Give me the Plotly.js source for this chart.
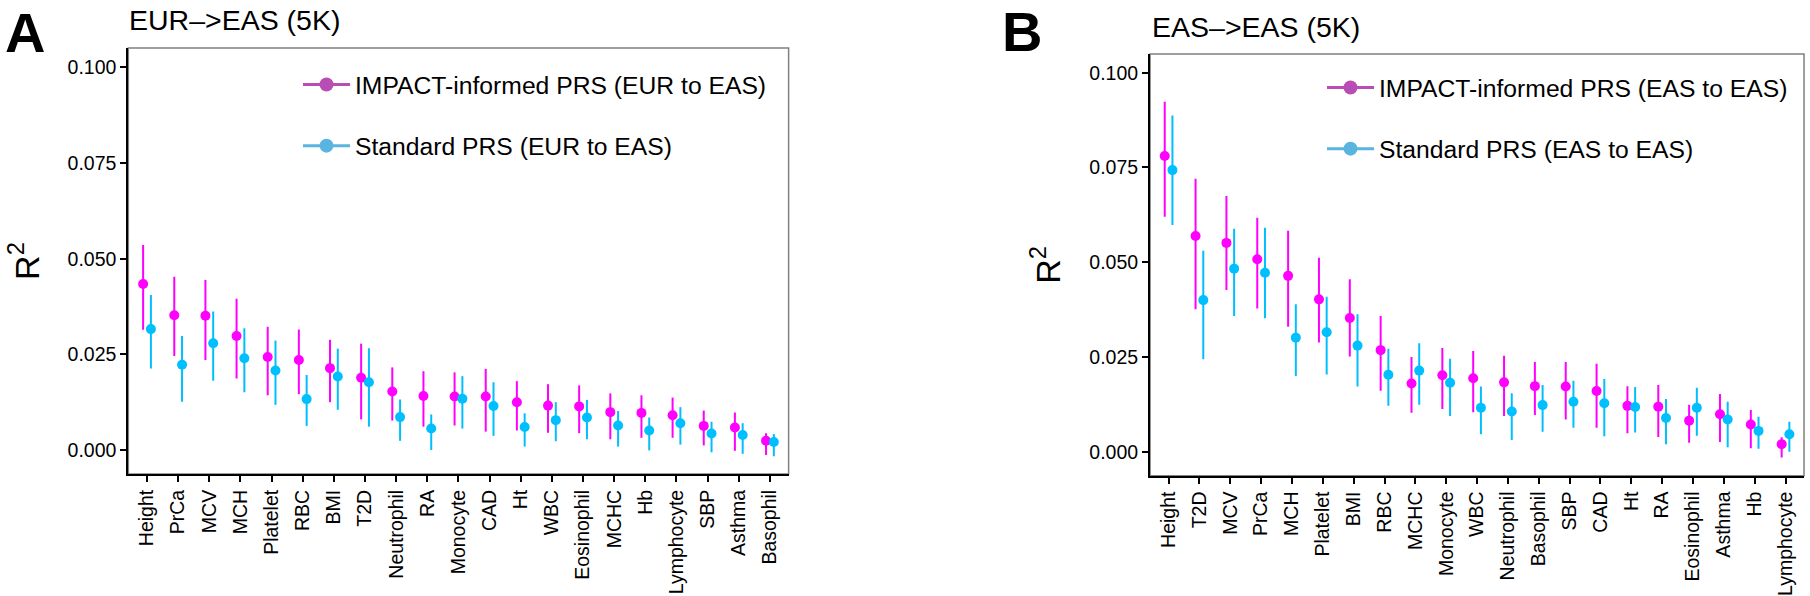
<!DOCTYPE html>
<html>
<head>
<meta charset="utf-8">
<script src="https://cdn.plot.ly/plotly-3.0.1.min.js"></script>
<style>html,body{margin:0;padding:0;background:#fff;}#chart{width:1810px;height:596px;}</style>
</head>
<body>
<div id="chart"></div>
<script>
// ---- Panel A: EUR->EAS (5K)
var categoriesA = ['Height','PrCa','MCV','MCH','Platelet','RBC','BMI','T2D','Neutrophil','RA','Monocyte','CAD','Ht','WBC','Eosinophil','MCHC','Hb','Lymphocyte','SBP','Asthma','Basophil'];
var impactA    = [0.0434,0.0352,0.0351,0.0298,0.0243,0.0235,0.0214,0.0189,0.0153,0.0141,0.0140,0.0140,0.0125,0.0116,0.0114,0.0099,0.0097,0.0091,0.0063,0.0059,0.0024];
var impactA_lo = [0.0314,0.0246,0.0235,0.0187,0.0143,0.0146,0.0125,0.0080,0.0077,0.0061,0.0064,0.0048,0.0051,0.0045,0.0044,0.0028,0.0032,0.0032,0.0012,-0.0002,-0.0013];
var impactA_hi = [0.0536,0.0453,0.0444,0.0395,0.0322,0.0315,0.0288,0.0278,0.0216,0.0206,0.0203,0.0212,0.0180,0.0172,0.0169,0.0148,0.0143,0.0137,0.0103,0.0098,0.0044];
var standardA    = [0.0316,0.0223,0.0279,0.0240,0.0208,0.0133,0.0192,0.0177,0.0086,0.0056,0.0134,0.0115,0.0060,0.0078,0.0085,0.0064,0.0051,0.0070,0.0043,0.0039,0.0021];
var standardA_lo = [0.0213,0.0126,0.0181,0.0151,0.0118,0.0063,0.0105,0.0061,0.0024,0.0000,0.0056,0.0037,0.0009,0.0023,0.0028,0.0009,-0.0001,0.0014,-0.0006,-0.0010,-0.0016];
var standardA_hi = [0.0405,0.0298,0.0362,0.0318,0.0286,0.0196,0.0265,0.0266,0.0132,0.0093,0.0193,0.0177,0.0096,0.0125,0.0131,0.0102,0.0085,0.0112,0.0074,0.0070,0.0042];

// ---- Panel B: EAS->EAS (5K)
var categoriesB = ['Height','T2D','MCV','PrCa','MCH','Platelet','BMI','RBC','MCHC','Monocyte','WBC','Neutrophil','Basophil','SBP','CAD','Ht','RA','Eosinophil','Asthma','Hb','Lymphocyte'];
var impactB    = [0.0780,0.0569,0.0551,0.0508,0.0464,0.0402,0.0353,0.0268,0.0180,0.0202,0.0194,0.0183,0.0173,0.0172,0.0160,0.0121,0.0119,0.0082,0.0099,0.0072,0.0020];
var impactB_lo = [0.0620,0.0376,0.0427,0.0378,0.0330,0.0288,0.0251,0.0161,0.0103,0.0113,0.0104,0.0094,0.0097,0.0085,0.0063,0.0049,0.0039,0.0024,0.0026,0.0009,-0.0015];
var impactB_hi = [0.0923,0.0720,0.0675,0.0617,0.0583,0.0512,0.0455,0.0358,0.0250,0.0274,0.0266,0.0253,0.0237,0.0237,0.0232,0.0173,0.0176,0.0124,0.0152,0.0110,0.0038];
var standardB    = [0.0743,0.0400,0.0483,0.0472,0.0301,0.0315,0.0280,0.0203,0.0214,0.0182,0.0116,0.0106,0.0123,0.0132,0.0128,0.0118,0.0089,0.0116,0.0085,0.0055,0.0046];
var standardB_lo = [0.0598,0.0244,0.0358,0.0352,0.0200,0.0204,0.0172,0.0121,0.0124,0.0094,0.0046,0.0031,0.0053,0.0063,0.0041,0.0051,0.0020,0.0042,0.0012,0.0008,0.0000];
var standardB_hi = [0.0887,0.0530,0.0588,0.0591,0.0389,0.0409,0.0363,0.0272,0.0286,0.0245,0.0172,0.0154,0.0176,0.0187,0.0192,0.0171,0.0139,0.0169,0.0132,0.0092,0.0079];

var yTicks = [0, 0.025, 0.05, 0.075, 0.1];
var legendNamesA = ['IMPACT-informed PRS (EUR to EAS)', 'Standard PRS (EUR to EAS)'];
var legendNamesB = ['IMPACT-informed PRS (EAS to EAS)', 'Standard PRS (EAS to EAS)'];

var MAGENTA = '#FF00FF', BLUE = '#00BFFF';
var LEG_MAGENTA = '#B84DB5', LEG_BLUE = '#5AB4E0';

function diff(a, b) { return a.map(function (v, i) { return v - b[i]; }); }

function pointTrace(cats, y, lo, hi, color, xa, ya, name) {
  return {
    type: 'scatter', mode: 'markers', orientation: 'v', name: name,
    x: cats, y: y, xaxis: xa, yaxis: ya, showlegend: false,
    marker: { size: 10, color: color },
    error_y: { type: 'data', symmetric: false, array: diff(hi, y), arrayminus: diff(y, lo),
               color: color, thickness: 2, width: 0 },
    hoverinfo: 'x+y'
  };
}
function legendTrace(name, color, legend, group) {
  return {
    type: 'scatter', mode: 'lines+markers', name: name, x: [null], y: [null],
    xaxis: 'x3', yaxis: 'y3', legend: legend, legendgroup: group, showlegend: true,
    line: { color: color, width: 3 }, marker: { size: 14, color: color }
  };
}

var data = [
  pointTrace(categoriesA, impactA, impactA_lo, impactA_hi, MAGENTA, 'x', 'y', legendNamesA[0]),
  pointTrace(categoriesA, standardA, standardA_lo, standardA_hi, BLUE, 'x', 'y', legendNamesA[1]),
  pointTrace(categoriesB, impactB, impactB_lo, impactB_hi, MAGENTA, 'x2', 'y2', legendNamesB[0]),
  pointTrace(categoriesB, standardB, standardB_lo, standardB_hi, BLUE, 'x2', 'y2', legendNamesB[1]),
  legendTrace(legendNamesA[0], LEG_MAGENTA, 'legend', 'a1'),
  legendTrace(legendNamesA[1], LEG_BLUE, 'legend', 'a2'),
  legendTrace(legendNamesB[0], LEG_MAGENTA, 'legend2', 'b1'),
  legendTrace(legendNamesB[1], LEG_BLUE, 'legend2', 'b2')
];

var FONT = 'Liberation Sans, Arial, Helvetica, sans-serif';

function xAxis(domain, cats, anchor) {
  return {
    domain: domain, anchor: anchor, type: 'category', categoryorder: 'array', categoryarray: cats,
    range: [-0.6, 20.6], showline: true, linecolor: '#000', linewidth: 2,
    ticks: 'outside', ticklen: 6, tickwidth: 2, tickcolor: '#000', tickangle: -90,
    tickfont: { size: 19.5, color: '#000', family: FONT }, showgrid: false, zeroline: false
  };
}
function yAxis(domain, range, anchor) {
  return {
    domain: domain, anchor: anchor, range: range, tickvals: yTicks, tickformat: '.3f',
    showline: true, linecolor: '#000', linewidth: 2,
    ticks: 'outside', ticklen: 6, tickwidth: 2, tickcolor: '#000',
    tickfont: { size: 19.5, color: '#000', family: FONT }, showgrid: false, zeroline: false,
    title: { text: 'R<sup>2</sup>', font: { size: 34, color: '#000', family: FONT }, standoff: 18 }
  };
}
function boxShape(xr, yr) {
  return { type: 'rect', xref: xr + ' domain', yref: yr + ' domain', x0: 0, x1: 1, y0: 0, y1: 1,
           line: { color: '#808080', width: 1.5 }, layer: 'below' };
}
function ann(text, x, y, size, bold) {
  return { text: bold ? '<b>' + text + '</b>' : text, xref: 'paper', yref: 'paper', x: x, y: y,
           xanchor: 'left', yanchor: 'middle', showarrow: false,
           font: { size: size, color: '#000', family: FONT } };
}
function legendBox(xpx, ypx) {
  return { x: xpx / 1810, y: 1 - ypx / 596, xanchor: 'left', yanchor: 'top', bgcolor: 'rgba(0,0,0,0)',
           font: { size: 24.7, color: '#000', family: FONT }, traceorder: 'grouped',
           tracegroupgap: 26, itemwidth: 47 };
}

var layout = {
  width: 1810, height: 596, margin: { l: 0, r: 0, t: 0, b: 0 },
  paper_bgcolor: '#fff', plot_bgcolor: '#fff',
  font: { family: FONT, color: '#000' },
  scattermode: 'group', scattergap: 0.5,
  xaxis: xAxis([0.0709, 0.4357], categoriesA, 'y'),
  yaxis: yAxis([0.2047, 0.9195], [-0.00627, 0.10507], 'x'),
  xaxis2: xAxis([0.6354, 0.9967], categoriesB, 'y2'),
  yaxis2: yAxis([0.2018, 0.9094], [-0.00633, 0.10493], 'x2'),
  xaxis3: { visible: false, domain: [0, 0.001], anchor: 'y3' },
  yaxis3: { visible: false, domain: [0, 0.001], anchor: 'x3' },
  legend: legendBox(298, 62),
  legend2: legendBox(1322, 65),
  shapes: [boxShape('x', 'y'), boxShape('x2', 'y2')],
  annotations: [
    ann('EUR–>EAS (5K)', 127 / 1810, 1 - 20.5 / 596, 28.5, false),
    ann('EAS–>EAS (5K)', 1150 / 1810, 1 - 27.3 / 596, 28.5, false),
    ann('A', 3 / 1810, 1 - 32.5 / 596, 56, true),
    ann('B', 1000 / 1810, 1 - 31.5 / 596, 56, true)
  ]
};

Plotly.newPlot('chart', data, layout, { displayModeBar: false, staticPlot: true });
</script>
</body>
</html>
